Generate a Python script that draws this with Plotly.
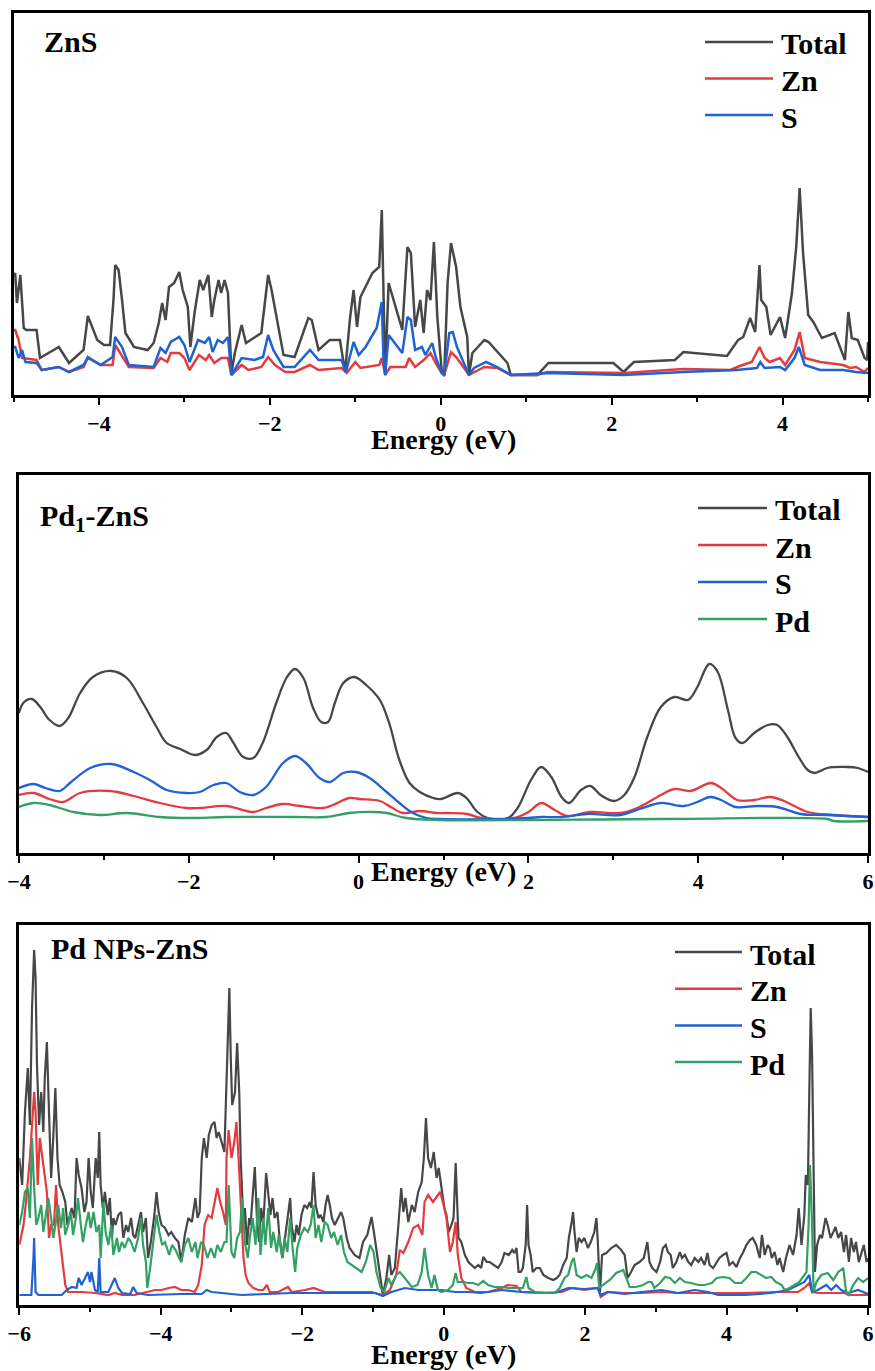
import plotly.graph_objects as go

W, H = 875, 1371

# ---------------- Data (Energy eV, DOS arb. units) ----------------
zns_total = [(-5.0, 10.0), (-4.98, 10.3), (-4.96, 7.3), (-4.92, 10.1), (-4.88, 4.8), (-4.85, 4.6), (-4.73, 4.6),
             (-4.69, 1.8), (-4.47, 2.9), (-4.35, 1.3), (-4.18, 2.6), (-4.13, 6.0), (-4.02, 3.6), (-3.94, 3.1),
             (-3.87, 3.1), (-3.83, 7.6), (-3.81, 11.1), (-3.77, 10.6), (-3.73, 7.6), (-3.69, 4.3), (-3.59, 2.9),
             (-3.43, 2.6), (-3.36, 3.3), (-3.30, 5.3), (-3.26, 7.3), (-3.22, 5.6), (-3.18, 8.9), (-3.12, 9.3),
             (-3.06, 10.4), (-3.02, 8.6), (-2.96, 6.9), (-2.93, 2.9), (-2.88, 6.4), (-2.82, 9.6), (-2.78, 8.6),
             (-2.72, 10.1), (-2.68, 5.9), (-2.65, 7.6), (-2.60, 9.6), (-2.57, 8.3), (-2.53, 9.6), (-2.49, 8.3),
             (-2.45, 0.3), (-2.41, 2.3), (-2.33, 5.1), (-2.28, 3.3), (-2.10, 4.3), (-2.02, 10.1), (-1.98, 8.6),
             (-1.84, 2.1), (-1.71, 1.9), (-1.55, 5.8), (-1.51, 5.6), (-1.43, 2.6), (-1.30, 3.6), (-1.18, 3.6),
             (-1.12, 0.4), (-1.06, 5.9), (-1.02, 8.6), (-0.98, 4.9), (-0.94, 7.9), (-0.90, 8.6), (-0.80, 10.3),
             (-0.72, 10.9), (-0.69, 16.6), (-0.67, 8.3), (-0.65, 0.1), (-0.61, 9.3), (-0.45, 4.6), (-0.39, 12.9),
             (-0.35, 12.3), (-0.30, 4.9), (-0.24, 7.6), (-0.20, 4.3), (-0.16, 8.6), (-0.12, 7.6), (-0.08, 13.4),
             (-0.04, 5.9), (0.01, 0.6), (0.04, 0.0), (0.08, 9.3), (0.12, 13.3), (0.18, 10.9), (0.23, 6.9),
             (0.31, 3.9), (0.33, 0.1), (0.37, 2.3), (0.51, 3.6), (0.56, 3.4), (0.78, 1.3), (0.82, 0.1),
             (1.13, 0.1), (1.26, 1.3), (2.02, 1.3), (2.14, 0.4), (2.26, 1.4), (2.74, 1.6), (2.84, 2.4),
             (3.35, 2.0), (3.48, 3.6), (3.54, 3.9), (3.62, 5.8), (3.68, 4.4), (3.73, 11.1), (3.75, 7.6),
             (3.81, 6.9), (3.86, 4.1), (3.97, 5.9), (4.03, 3.8), (4.11, 8.3), (4.16, 12.9), (4.20, 18.8),
             (4.24, 12.3), (4.30, 6.1), (4.36, 5.4), (4.46, 3.8), (4.61, 4.3), (4.73, 1.6), (4.77, 6.4),
             (4.81, 3.8), (4.88, 3.6), (4.96, 1.8), (4.99, 1.6), (5.0, 3.4)]
zns_zn = [(-5.0, 4.6), (-4.98, 4.6), (-4.94, 3.6), (-4.90, 1.8), (-4.73, 1.6), (-4.67, 0.6), (-4.47, 0.9),
          (-4.35, 0.4), (-4.18, 0.9), (-4.13, 1.8), (-3.98, 1.1), (-3.84, 1.1), (-3.81, 3.1), (-3.75, 2.3),
          (-3.65, 0.9), (-3.36, 0.8), (-3.28, 1.8), (-3.20, 1.4), (-3.16, 2.3), (-3.06, 2.3), (-3.00, 1.8),
          (-2.94, 0.6), (-2.83, 2.1), (-2.75, 1.6), (-2.71, 2.1), (-2.65, 1.3), (-2.57, 1.8), (-2.49, 1.8),
          (-2.45, 0.1), (-2.33, 1.1), (-2.25, 0.6), (-2.10, 0.9), (-2.02, 1.9), (-1.94, 1.1), (-1.82, 0.4),
          (-1.71, 0.4), (-1.53, 1.1), (-1.43, 0.6), (-1.16, 0.8), (-1.10, 0.3), (-1.00, 1.4), (-0.94, 0.8),
          (-0.72, 1.1), (-0.69, 1.8), (-0.65, 0.1), (-0.59, 0.9), (-0.41, 0.9), (-0.37, 1.8), (-0.30, 0.9),
          (-0.20, 1.6), (-0.12, 2.3), (-0.06, 1.3), (0.01, 0.3), (0.04, 0.1), (0.12, 2.4), (0.19, 1.8),
          (0.33, 0.1), (0.51, 0.9), (0.66, 0.8), (0.82, 0.1), (1.13, 0.1), (1.25, 0.4), (2.14, 0.3),
          (2.84, 0.7), (3.39, 0.6), (3.50, 1.0), (3.64, 1.4), (3.73, 2.9), (3.79, 1.8), (3.85, 1.4),
          (3.97, 1.8), (4.03, 1.1), (4.14, 2.6), (4.20, 4.4), (4.26, 1.8), (4.44, 1.4), (4.71, 1.1),
          (4.79, 0.8), (4.86, 0.9), (4.96, 0.4), (5.0, 0.8)]
zns_s = [(-5.0, 2.9), (-4.98, 2.9), (-4.94, 1.8), (-4.90, 2.6), (-4.86, 1.4), (-4.73, 1.3), (-4.67, 0.6),
         (-4.47, 0.9), (-4.35, 0.4), (-4.18, 1.1), (-4.13, 1.9), (-3.98, 1.1), (-3.84, 1.9), (-3.81, 3.9),
         (-3.73, 2.9), (-3.65, 1.1), (-3.36, 0.9), (-3.28, 2.8), (-3.22, 2.3), (-3.16, 3.4), (-3.06, 3.9),
         (-3.00, 3.1), (-2.94, 1.4), (-2.84, 3.6), (-2.76, 3.3), (-2.71, 3.9), (-2.67, 2.4), (-2.61, 3.6),
         (-2.55, 3.3), (-2.49, 3.9), (-2.45, 0.1), (-2.33, 1.8), (-2.18, 1.6), (-2.08, 1.9), (-2.02, 4.1),
         (-1.96, 2.6), (-1.84, 0.9), (-1.71, 0.9), (-1.53, 2.6), (-1.43, 1.6), (-1.16, 1.6), (-1.11, 0.4),
         (-1.02, 3.4), (-0.96, 2.1), (-0.88, 2.9), (-0.75, 4.8), (-0.69, 7.4), (-0.67, 1.6), (-0.65, 0.1),
         (-0.61, 4.1), (-0.45, 2.3), (-0.39, 5.9), (-0.35, 5.6), (-0.30, 2.6), (-0.22, 2.9), (-0.18, 2.1),
         (-0.10, 3.3), (-0.06, 1.9), (0.01, 0.3), (0.04, 0.1), (0.10, 4.3), (0.14, 4.4), (0.19, 2.9),
         (0.33, 0.1), (0.39, 0.8), (0.53, 1.4), (0.66, 0.9), (0.82, 0.1), (1.25, 0.3), (2.14, 0.1),
         (2.84, 0.4), (3.46, 0.6), (3.70, 0.8), (3.74, 1.4), (3.79, 0.8), (3.97, 0.9), (4.03, 0.6),
         (4.14, 1.8), (4.19, 2.9), (4.26, 1.1), (4.44, 0.6), (4.71, 0.6), (4.86, 0.4), (5.0, 0.3)]

pd1_total = [(-4.00, 10.6), (-3.95, 11.6), (-3.85, 12.0), (-3.75, 11.2), (-3.64, 9.9), (-3.52, 9.3),
             (-3.42, 10.1), (-3.28, 12.6), (-3.13, 14.2), (-2.91, 14.8), (-2.73, 14.1), (-2.54, 11.6),
             (-2.38, 9.2), (-2.26, 7.6), (-2.10, 7.0), (-1.93, 6.4), (-1.79, 6.9), (-1.67, 8.2), (-1.56, 8.6),
             (-1.48, 7.7), (-1.36, 6.2), (-1.24, 6.1), (-1.13, 7.6), (-0.97, 11.6), (-0.85, 14.1),
             (-0.75, 15.0), (-0.65, 14.1), (-0.54, 11.2), (-0.44, 9.7), (-0.36, 9.7), (-0.28, 11.6),
             (-0.18, 13.6), (-0.05, 14.2), (0.09, 13.4), (0.25, 11.9), (0.36, 9.6), (0.48, 5.9), (0.60, 3.6),
             (0.72, 2.7), (0.88, 2.1), (0.97, 2.0), (1.17, 2.6), (1.27, 2.1), (1.40, 0.7), (1.52, 0.1),
             (1.76, 0.1), (1.88, 1.2), (2.03, 3.9), (2.15, 5.2), (2.27, 4.2), (2.39, 2.2), (2.48, 1.6),
             (2.62, 2.9), (2.73, 3.3), (2.85, 2.4), (3.01, 1.8), (3.13, 2.4), (3.25, 4.2), (3.40, 8.2),
             (3.56, 11.2), (3.72, 12.2), (3.88, 11.9), (3.99, 13.2), (4.13, 15.5), (4.23, 14.7), (4.35, 10.9),
             (4.44, 8.1), (4.52, 7.6), (4.66, 8.6), (4.82, 9.4), (4.93, 9.4), (5.05, 8.2), (5.17, 6.4),
             (5.29, 4.9), (5.37, 4.6), (5.52, 5.1), (5.76, 5.2), (5.88, 5.1), (6.0, 4.7)]
pd1_zn = [(-4.00, 2.4), (-3.83, 2.6), (-3.64, 2.0), (-3.48, 1.7), (-3.28, 2.6), (-2.93, 2.8), (-2.65, 2.3),
          (-2.34, 1.6), (-2.03, 1.1), (-1.87, 1.1), (-1.56, 1.3), (-1.24, 0.7), (-1.09, 1.1), (-0.89, 1.5),
          (-0.69, 1.3), (-0.42, 1.1), (-0.30, 1.4), (-0.11, 2.1), (0.01, 2.0), (0.25, 1.8), (0.38, 1.2),
          (0.52, 0.6), (0.72, 0.8), (0.92, 0.6), (1.05, 0.6), (1.28, 0.5), (1.44, 0.1), (1.83, 0.1),
          (2.00, 0.7), (2.15, 1.6), (2.31, 0.9), (2.46, 0.3), (2.73, 0.7), (3.08, 0.6), (3.31, 1.2),
          (3.56, 2.4), (3.72, 3.0), (3.91, 2.8), (4.15, 3.6), (4.27, 3.1), (4.46, 1.9), (4.66, 1.9),
          (4.85, 2.2), (5.01, 1.8), (5.29, 0.7), (5.60, 0.4), (6.0, 0.2)]
pd1_s = [(-4.00, 3.1), (-3.83, 3.5), (-3.69, 3.1), (-3.52, 2.8), (-3.40, 3.6), (-3.16, 5.1), (-2.91, 5.5),
         (-2.65, 4.7), (-2.46, 3.9), (-2.26, 2.9), (-2.03, 2.6), (-1.87, 2.7), (-1.71, 3.4), (-1.56, 3.6),
         (-1.40, 2.7), (-1.24, 2.4), (-1.09, 3.2), (-0.89, 5.6), (-0.75, 6.3), (-0.62, 5.6), (-0.46, 4.1),
         (-0.34, 3.7), (-0.18, 4.6), (-0.03, 4.7), (0.13, 4.1), (0.33, 2.7), (0.48, 1.6), (0.64, 0.6),
         (0.80, 0.1), (0.95, 0.0), (1.68, 0.0), (2.00, 0.1), (2.15, 0.2), (2.39, 0.2), (2.69, 0.5),
         (3.08, 0.4), (3.31, 1.0), (3.56, 1.6), (3.83, 1.3), (3.99, 1.7), (4.14, 2.2), (4.27, 1.9),
         (4.44, 1.2), (4.69, 1.3), (4.93, 1.2), (5.21, 0.5), (5.52, 0.4), (6.0, 0.2)]
pd1_pd = [(-4.00, 1.2), (-3.83, 1.6), (-3.64, 1.4), (-3.36, 0.7), (-3.05, 0.4), (-2.73, 0.6), (-2.34, 0.2),
          (-1.99, 0.1), (-1.56, 0.2), (-0.77, 0.2), (-0.38, 0.2), (-0.11, 0.6), (0.17, 0.7), (0.33, 0.6),
          (0.56, 0.1), (0.95, -0.1), (3.56, 0.0), (5.52, 0.0), (5.60, -0.2), (6.0, -0.2)]

np_total = [(-6.0, 13.7), (-5.96, 11.0), (-5.92, 18.3), (-5.88, 22.7), (-5.85, 17.0), (-5.82, 28.7),
            (-5.79, 34.5), (-5.77, 31.7), (-5.75, 23.0), (-5.72, 17.0), (-5.69, 20.3), (-5.66, 16.3),
            (-5.64, 21.7), (-5.61, 25.3), (-5.58, 18.3), (-5.55, 11.7), (-5.52, 15.7), (-5.49, 20.7),
            (-5.46, 13.7), (-5.43, 11.0), (-5.39, 10.3), (-5.35, 9.3), (-5.32, 7.0), (-5.29, 8.0),
            (-5.26, 8.7), (-5.22, 7.7), (-5.19, 13.7), (-5.16, 12.0), (-5.12, 10.7), (-5.08, 8.3),
            (-5.05, 9.3), (-5.02, 13.7), (-4.99, 10.3), (-4.96, 8.7), (-4.92, 13.7), (-4.89, 11.7),
            (-4.87, 16.3), (-4.85, 11.0), (-4.82, 8.7), (-4.79, 10.3), (-4.75, 8.0), (-4.72, 9.7),
            (-4.69, 5.7), (-4.67, 7.7), (-4.64, 7.0), (-4.60, 8.0), (-4.56, 8.3), (-4.53, 5.7), (-4.49, 7.0),
            (-4.46, 6.3), (-4.42, 7.7), (-4.39, 6.0), (-4.36, 5.7), (-4.32, 7.0), (-4.28, 8.3), (-4.25, 6.3),
            (-4.21, 7.7), (-4.18, 3.7), (-4.14, 5.3), (-4.09, 8.0), (-4.06, 10.3), (-4.03, 8.3), (-3.99, 7.0),
            (-3.94, 6.7), (-3.89, 6.0), (-3.85, 6.3), (-3.80, 5.7), (-3.75, 5.3), (-3.71, 3.3), (-3.66, 6.0),
            (-3.61, 7.7), (-3.56, 7.3), (-3.51, 9.7), (-3.48, 7.7), (-3.45, 8.3), (-3.42, 13.7), (-3.39, 15.7),
            (-3.35, 13.7), (-3.32, 16.0), (-3.28, 17.0), (-3.24, 17.3), (-3.21, 15.7), (-3.18, 16.3),
            (-3.14, 15.3), (-3.10, 14.3), (-3.06, 23.7), (-3.03, 30.7), (-3.01, 23.7), (-2.99, 19.0),
            (-2.95, 20.3), (-2.92, 25.2), (-2.89, 20.3), (-2.87, 13.7), (-2.83, 7.0), (-2.81, 8.7),
            (-2.78, 5.0), (-2.75, 7.7), (-2.73, 7.0), (-2.69, 10.3), (-2.67, 12.8), (-2.64, 7.7),
            (-2.61, 5.3), (-2.58, 8.7), (-2.55, 7.0), (-2.51, 12.2), (-2.48, 10.3), (-2.45, 8.0),
            (-2.42, 9.7), (-2.39, 7.7), (-2.35, 8.3), (-2.32, 5.7), (-2.28, 3.7), (-2.25, 5.3), (-2.21, 7.7),
            (-2.17, 9.7), (-2.15, 7.0), (-2.11, 5.3), (-2.08, 7.0), (-2.05, 6.0), (-2.01, 8.0), (-1.97, 9.0),
            (-1.93, 8.7), (-1.89, 9.3), (-1.87, 8.7), (-1.84, 12.3), (-1.81, 9.0), (-1.77, 7.7), (-1.74, 8.0),
            (-1.70, 7.3), (-1.67, 9.0), (-1.64, 10.0), (-1.61, 9.0), (-1.58, 7.7), (-1.54, 7.0), (-1.49, 7.7),
            (-1.45, 8.3), (-1.42, 7.7), (-1.37, 5.7), (-1.33, 4.7), (-1.26, 4.0), (-1.19, 3.7), (-1.14, 5.3),
            (-1.08, 6.0), (-1.02, 7.8), (-0.98, 6.0), (-0.93, 3.3), (-0.86, 0.0), (-0.81, 1.7), (-0.77, 4.0),
            (-0.74, 2.0), (-0.69, 2.7), (-0.64, 7.0), (-0.60, 10.7), (-0.57, 8.3), (-0.54, 9.7), (-0.50, 7.3),
            (-0.45, 9.0), (-0.41, 8.3), (-0.36, 10.3), (-0.31, 11.3), (-0.28, 13.7), (-0.25, 17.7),
            (-0.22, 13.7), (-0.18, 12.7), (-0.14, 14.3), (-0.10, 11.7), (-0.07, 12.7), (-0.03, 10.7),
            (0.01, 8.7), (0.04, 8.0), (0.07, 6.3), (0.11, 7.0), (0.14, 7.7), (0.17, 13.2), (0.20, 7.7),
            (0.21, 5.7), (0.25, 5.3), (0.30, 4.0), (0.35, 3.3), (0.40, 3.0), (0.44, 2.7), (0.49, 3.0),
            (0.53, 2.7), (0.56, 3.8), (0.61, 3.3), (0.65, 3.3), (0.72, 3.0), (0.77, 2.7), (0.82, 3.3),
            (0.86, 4.2), (0.92, 4.0), (0.97, 4.5), (1.00, 4.2), (1.03, 4.7), (1.06, 2.3), (1.09, 2.3),
            (1.12, 2.7), (1.16, 5.0), (1.18, 9.0), (1.20, 5.0), (1.23, 4.0), (1.26, 2.3), (1.31, 2.7),
            (1.36, 2.7), (1.41, 2.0), (1.48, 1.7), (1.55, 1.5), (1.60, 1.7), (1.64, 2.0), (1.69, 3.0),
            (1.74, 3.7), (1.77, 5.7), (1.81, 7.3), (1.83, 8.3), (1.85, 6.3), (1.88, 4.3), (1.91, 5.7),
            (1.95, 5.3), (1.99, 5.7), (2.04, 4.7), (2.08, 5.3), (2.13, 6.3), (2.16, 7.7), (2.18, 5.3),
            (2.21, 0.3), (2.24, 4.0), (2.30, 4.2), (2.37, 4.7), (2.44, 5.0), (2.51, 4.5), (2.56, 4.0),
            (2.60, 1.7), (2.65, 2.3), (2.70, 3.0), (2.77, 3.3), (2.83, 3.7), (2.88, 5.3), (2.91, 3.3),
            (2.95, 2.7), (3.01, 2.3), (3.06, 3.3), (3.10, 4.7), (3.14, 5.0), (3.17, 4.3), (3.21, 4.0),
            (3.24, 2.7), (3.29, 3.3), (3.34, 4.3), (3.37, 3.7), (3.41, 4.0), (3.46, 3.3), (3.50, 3.0),
            (3.55, 3.7), (3.60, 3.3), (3.64, 3.7), (3.69, 3.0), (3.73, 4.2), (3.76, 3.0), (3.81, 2.7),
            (3.86, 3.3), (3.90, 3.7), (3.95, 4.0), (4.00, 4.2), (4.04, 3.0), (4.09, 3.3), (4.14, 2.8),
            (4.19, 3.7), (4.23, 4.2), (4.28, 5.0), (4.33, 5.5), (4.37, 5.7), (4.42, 5.0), (4.47, 3.7),
            (4.50, 6.0), (4.54, 4.0), (4.58, 5.0), (4.61, 4.7), (4.64, 3.7), (4.68, 4.3), (4.72, 3.0),
            (4.75, 3.7), (4.80, 2.3), (4.84, 3.7), (4.89, 5.0), (4.94, 4.0), (4.99, 6.0), (5.02, 8.7),
            (5.06, 5.0), (5.10, 8.0), (5.12, 12.0), (5.15, 11.0), (5.17, 20.3), (5.19, 28.7), (5.21, 23.7),
            (5.23, 10.3), (5.25, 2.3), (5.28, 5.0), (5.32, 6.0), (5.35, 5.7), (5.40, 7.7), (5.43, 7.0),
            (5.47, 5.7), (5.51, 6.3), (5.54, 6.8), (5.58, 5.7), (5.62, 6.3), (5.66, 4.3), (5.69, 6.0),
            (5.73, 3.3), (5.76, 5.7), (5.80, 4.3), (5.83, 5.3), (5.87, 3.3), (5.91, 4.3), (5.94, 5.0),
            (5.98, 3.3), (6.0, 3.7)]
np_zn = [(-6.0, 5.0), (-5.94, 7.0), (-5.90, 9.7), (-5.85, 13.7), (-5.82, 17.0), (-5.79, 20.3), (-5.77, 18.3),
         (-5.74, 11.0), (-5.71, 15.7), (-5.67, 13.7), (-5.64, 11.7), (-5.61, 10.3), (-5.58, 5.7), (-5.55, 7.0),
         (-5.51, 7.0), (-5.48, 11.0), (-5.45, 7.0), (-5.40, 3.7), (-5.35, 1.0), (-5.31, 0.3), (-5.12, 0.3),
         (-4.93, 0.2), (-4.74, 0.0), (-4.65, 0.2), (-4.55, 0.0), (-4.37, 0.0), (-4.18, 0.3), (-4.08, 0.5),
         (-3.99, 0.5), (-3.89, 0.7), (-3.80, 0.8), (-3.71, 0.5), (-3.61, 0.5), (-3.52, 0.3), (-3.47, 1.0),
         (-3.42, 3.0), (-3.38, 7.0), (-3.33, 8.0), (-3.28, 7.7), (-3.23, 9.7), (-3.20, 10.7), (-3.16, 9.3),
         (-3.12, 8.3), (-3.08, 7.0), (-3.07, 13.7), (-3.04, 16.5), (-3.00, 13.7), (-2.96, 15.3),
         (-2.93, 17.3), (-2.90, 13.7), (-2.87, 8.7), (-2.83, 3.7), (-2.80, 2.0), (-2.76, 1.2), (-2.69, 0.7),
         (-2.62, 0.5), (-2.55, 0.5), (-2.50, 1.0), (-2.46, 0.3), (-2.34, 0.3), (-2.20, 0.8), (-2.15, 0.3),
         (-1.96, 0.5), (-1.84, 0.7), (-1.68, 0.3), (-1.44, 0.3), (-1.21, 0.3), (-1.02, 0.3), (-0.86, 0.0),
         (-0.76, 0.5), (-0.67, 2.0), (-0.62, 4.5), (-0.57, 4.2), (-0.50, 5.3), (-0.43, 6.7), (-0.36, 7.0),
         (-0.30, 6.0), (-0.27, 9.3), (-0.22, 10.0), (-0.15, 9.3), (-0.08, 10.0), (-0.05, 10.3), (0.00, 9.0),
         (0.04, 7.7), (0.09, 4.3), (0.13, 5.3), (0.17, 7.3), (0.20, 4.0), (0.25, 1.7), (0.32, 0.7),
         (0.44, 0.3), (0.63, 0.3), (0.82, 0.7), (0.91, 1.0), (1.03, 0.9), (1.10, 0.3), (1.38, 0.2),
         (1.67, 0.3), (1.81, 0.7), (1.99, 0.5), (2.18, 0.7), (2.22, -0.2), (2.32, 0.3), (2.56, 0.2),
         (2.80, 0.2), (3.08, 0.3), (3.31, 0.2), (3.79, 0.2), (4.26, 0.2), (4.73, 0.3), (5.01, 0.3),
         (5.10, 0.7), (5.17, 1.2), (5.21, 0.3), (5.29, 0.2), (5.67, 0.2), (5.72, 0.0), (6.0, 0.0)]
np_s = [(-6.0, 0.0), (-5.83, 0.0), (-5.80, 3.7), (-5.79, 5.7), (-5.77, 0.3), (-5.73, 0.0), (-5.40, 0.0),
        (-5.33, 0.5), (-5.26, 0.8), (-5.19, 0.7), (-5.16, 1.7), (-5.12, 1.0), (-5.07, 1.7), (-5.03, 2.3),
        (-5.00, 1.3), (-4.98, 2.3), (-4.93, 0.5), (-4.89, 0.3), (-4.87, 3.7), (-4.85, 0.3), (-4.74, 0.3),
        (-4.69, 1.0), (-4.65, 1.7), (-4.60, 0.7), (-4.55, 0.2), (-4.43, 0.1), (-4.39, 0.8), (-4.34, 0.2),
        (-4.18, 0.0), (-3.71, 0.1), (-3.42, 0.1), (-3.35, 0.5), (-3.28, 0.3), (-3.14, 0.2), (-2.86, 0.0),
        (-2.15, 0.2), (-1.68, 0.2), (-1.21, 0.2), (-0.97, 0.2), (-0.86, -0.1), (-0.74, 0.3), (-0.55, 0.7),
        (-0.36, 0.5), (-0.17, 0.5), (-0.03, 0.5), (0.16, 0.3), (0.35, 0.3), (0.53, 0.2), (0.82, 0.5),
        (1.10, 0.3), (1.38, 0.2), (1.57, 0.2), (1.76, 0.7), (1.99, 0.6), (2.18, 0.7), (2.22, 0.0),
        (2.32, 0.3), (2.56, 0.1), (2.80, 0.3), (3.08, 0.5), (3.31, 0.2), (3.55, 0.5), (3.74, 0.3),
        (3.88, 0.0), (4.26, 0.0), (4.63, 0.2), (4.87, 0.5), (5.01, 1.0), (5.10, 1.3), (5.17, 2.0),
        (5.21, 0.3), (5.29, 0.5), (5.41, 1.0), (5.48, 0.5), (5.55, 1.0), (5.62, 0.5), (5.72, 0.2),
        (5.86, 0.5), (6.0, 0.1)]
np_pd = [(-6.0, 7.0), (-5.96, 8.3), (-5.92, 10.3), (-5.88, 10.7), (-5.85, 7.7), (-5.82, 15.7), (-5.79, 10.7),
         (-5.76, 7.0), (-5.73, 7.7), (-5.69, 9.0), (-5.66, 6.3), (-5.63, 7.7), (-5.59, 9.7), (-5.55, 7.7),
         (-5.52, 5.7), (-5.49, 7.0), (-5.45, 9.0), (-5.41, 6.7), (-5.38, 8.7), (-5.35, 6.0), (-5.31, 7.0),
         (-5.27, 8.3), (-5.24, 6.0), (-5.20, 7.7), (-5.17, 9.7), (-5.13, 7.0), (-5.10, 5.3), (-5.06, 7.0),
         (-5.02, 8.3), (-4.99, 6.7), (-4.95, 8.3), (-4.91, 6.3), (-4.87, 7.0), (-4.85, 3.7), (-4.81, 9.3),
         (-4.78, 6.3), (-4.74, 5.0), (-4.70, 7.0), (-4.67, 4.0), (-4.62, 5.7), (-4.59, 4.3), (-4.55, 5.3),
         (-4.51, 4.7), (-4.46, 5.7), (-4.42, 5.3), (-4.37, 4.3), (-4.32, 5.7), (-4.28, 7.7), (-4.25, 5.0),
         (-4.21, 3.3), (-4.19, 0.7), (-4.15, 2.7), (-4.11, 5.0), (-4.06, 8.0), (-4.02, 6.3), (-3.98, 5.0),
         (-3.94, 5.3), (-3.88, 4.0), (-3.84, 5.0), (-3.79, 4.5), (-3.74, 3.7), (-3.71, 3.3), (-3.66, 5.0),
         (-3.61, 5.7), (-3.56, 4.3), (-3.51, 5.3), (-3.48, 3.7), (-3.43, 5.3), (-3.39, 5.0), (-3.34, 3.7),
         (-3.29, 4.7), (-3.24, 3.7), (-3.20, 5.0), (-3.15, 4.3), (-3.10, 5.3), (-3.07, 5.3), (-3.04, 11.0),
         (-3.00, 4.3), (-2.96, 3.7), (-2.92, 5.7), (-2.88, 6.3), (-2.85, 9.7), (-2.81, 5.3), (-2.77, 3.7),
         (-2.74, 5.7), (-2.70, 7.7), (-2.66, 5.0), (-2.62, 9.7), (-2.59, 4.0), (-2.55, 7.7), (-2.52, 5.0),
         (-2.48, 8.7), (-2.44, 4.7), (-2.41, 6.3), (-2.36, 4.3), (-2.33, 6.0), (-2.28, 3.7), (-2.25, 5.7),
         (-2.21, 4.3), (-2.17, 7.7), (-2.14, 5.0), (-2.10, 2.3), (-2.07, 4.7), (-2.02, 6.0), (-1.97, 6.7),
         (-1.92, 6.3), (-1.88, 7.0), (-1.84, 9.0), (-1.81, 5.7), (-1.77, 7.0), (-1.73, 5.3), (-1.68, 7.3),
         (-1.64, 7.0), (-1.59, 5.7), (-1.55, 6.3), (-1.50, 5.0), (-1.45, 6.0), (-1.41, 4.3), (-1.36, 3.3),
         (-1.30, 3.0), (-1.23, 2.7), (-1.16, 2.3), (-1.10, 3.3), (-1.04, 5.0), (-0.99, 4.3), (-0.95, 2.3),
         (-0.89, 0.7), (-0.84, 0.3), (-0.78, 1.7), (-0.74, 1.0), (-0.67, 2.0), (-0.62, 2.3), (-0.55, 1.7),
         (-0.45, 0.8), (-0.37, 1.0), (-0.31, 2.3), (-0.27, 4.7), (-0.22, 2.0), (-0.17, 0.7), (-0.13, 2.0),
         (-0.08, 0.5), (-0.03, 0.3), (0.06, 0.5), (0.13, 1.0), (0.17, 2.2), (0.20, 1.3), (0.28, 1.3),
         (0.35, 1.2), (0.42, 1.2), (0.49, 1.0), (0.56, 1.4), (0.63, 1.0), (0.72, 0.8), (0.82, 0.8),
         (0.91, 0.7), (1.03, 0.7), (1.12, 0.7), (1.17, 1.8), (1.20, 0.7), (1.29, 0.3), (1.43, 0.2),
         (1.57, 0.2), (1.64, 0.7), (1.71, 1.7), (1.76, 2.0), (1.81, 3.3), (1.84, 3.7), (1.88, 2.0),
         (1.95, 1.7), (2.02, 2.0), (2.09, 1.7), (2.14, 2.5), (2.17, 3.2), (2.20, 0.7), (2.25, 1.0),
         (2.35, 1.5), (2.44, 2.2), (2.54, 2.5), (2.58, 1.7), (2.63, 0.8), (2.72, 0.8), (2.82, 1.0),
         (2.89, 1.3), (2.94, 1.3), (2.98, 0.7), (3.06, 1.2), (3.13, 1.8), (3.20, 1.7), (3.27, 1.2),
         (3.34, 1.7), (3.41, 1.3), (3.50, 1.2), (3.60, 1.0), (3.69, 1.0), (3.79, 1.2), (3.86, 1.7),
         (3.95, 1.8), (4.04, 1.7), (4.12, 1.2), (4.21, 1.2), (4.28, 1.7), (4.35, 2.3), (4.42, 2.3),
         (4.49, 2.0), (4.56, 1.7), (4.63, 1.8), (4.70, 1.3), (4.78, 1.0), (4.82, 0.5), (4.89, 0.7),
         (4.96, 1.0), (5.03, 1.3), (5.10, 2.0), (5.13, 2.3), (5.16, 7.0), (5.18, 13.0), (5.21, 7.0),
         (5.23, 0.3), (5.27, 1.3), (5.34, 2.0), (5.43, 2.2), (5.51, 1.5), (5.58, 2.3), (5.65, 2.7),
         (5.69, 0.3), (5.73, 0.0), (5.79, 1.0), (5.86, 1.7), (5.93, 1.3), (6.0, 1.7)]

series_names = ["Total", "Zn", "S", "Pd"]
panel_labels = ["ZnS", "Pd<sub>1</sub>-ZnS", "Pd NPs-ZnS"]
x_ranges = [(-5, 5), (-4, 6), (-6, 6)]
y_ranges = [(-1.9, 36.3), (-3.4, 34.4), (-1.0, 37.0)]

# ---------------- Styling ----------------
COLORS = {"Total": "#474747", "Zn": "#e33b3f", "S": "#1f63d2", "Pd": "#33a066"}
FONT = "Liberation Serif"

panels = [
    {"data": [("Total", zns_total), ("Zn", zns_zn), ("S", zns_s)],
     "xdom": (13.5, 868), "ydom": (13, 395), "shape": "linear", "lw": 2.5},
    {"data": [("Total", pd1_total), ("Zn", pd1_zn), ("S", pd1_s), ("Pd", pd1_pd)],
     "xdom": (19, 868), "ydom": (475, 853), "shape": "spline", "lw": 2.3},
    {"data": [("Total", np_total), ("Zn", np_zn), ("S", np_s), ("Pd", np_pd)],
     "xdom": (19.3, 868), "ydom": (925, 1305), "shape": "linear", "lw": 2.2},
]

legend_geo = [  # line x0, x1, text x, first y, spacing (pixels)
    (705, 773, 779, 42, 36.5),
    (698, 767, 773, 508, 37.0),
    (675, 742, 748, 952, 36.7),
]
label_pos = [(42, 42), (38, 518), (49, 949)]
title_y = [440, 871, 1354]

fig = go.Figure()
shapes, annotations = [], []

def px2x(p):
    return p / W

def py2y(p):
    return 1 - p / H

for i, pnl in enumerate(panels):
    n = "" if i == 0 else str(i + 1)
    xa, ya = "x" + n, "y" + n
    for name, pts in pnl["data"]:
        fig.add_trace(go.Scatter(
            x=[p[0] for p in pts], y=[p[1] for p in pts], mode="lines", name=name,
            line=dict(color=COLORS[name], width=pnl["lw"], shape=pnl["shape"]),
            xaxis=xa, yaxis=ya, showlegend=False, hoverinfo="skip"))
    x0, x1 = pnl["xdom"]
    ytop, ybot = pnl["ydom"]
    fig.layout["xaxis" + n] = dict(
        domain=[px2x(x0), px2x(x1)], anchor=ya, range=list(x_ranges[i]), dtick=2, tick0=0,
        automargin=False,
        ticks="outside", ticklen=7, tickwidth=2, tickcolor="black",
        minor=dict(dtick=1, tick0=0, ticks="outside", ticklen=4, tickwidth=2, tickcolor="black", showgrid=False),
        showline=True, linewidth=2.5, linecolor="black", mirror=True, showgrid=False, zeroline=False,
        tickfont=dict(family=FONT, size=22, color="black", weight="bold"), ticklabelstandoff=0)
    fig.layout["yaxis" + n] = dict(
        domain=[py2y(ybot), py2y(ytop)], anchor=xa, range=list(y_ranges[i]), automargin=False,
        showticklabels=False, ticks="", showline=True, linewidth=2.5, linecolor="black", mirror=True,
        showgrid=False, zeroline=False)

    # axis title
    annotations.append(dict(text="Energy (eV)", x=px2x(443), y=py2y(title_y[i]), xref="paper", yref="paper",
                            showarrow=False, xanchor="center", yanchor="middle",
                            font=dict(family=FONT, size=28, color="black", weight="bold")))
    # panel label
    lx, ly = label_pos[i]
    annotations.append(dict(text=panel_labels[i], x=px2x(lx), y=py2y(ly), xref="paper", yref="paper",
                            showarrow=False, xanchor="left", yanchor="middle",
                            font=dict(family=FONT, size=30, color="black", weight="bold")))
    # legend
    lx0, lx1, tx, ly0, dy = legend_geo[i]
    for k, (name, _) in enumerate(pnl["data"]):
        yy = ly0 + k * dy
        shapes.append(dict(type="line", xref="paper", yref="paper", x0=px2x(lx0), x1=px2x(lx1),
                           y0=py2y(yy), y1=py2y(yy), line=dict(color=COLORS[name], width=2.5)))
        annotations.append(dict(text=name, x=px2x(tx), y=py2y(yy + 2), xref="paper", yref="paper",
                                showarrow=False, xanchor="left", yanchor="middle",
                                font=dict(family=FONT, size=30, color="black", weight="bold")))

fig.update_layout(width=W, height=H, margin=dict(l=0, r=0, t=0, b=0, autoexpand=False),
                  paper_bgcolor="white", plot_bgcolor="white", shapes=shapes, annotations=annotations,
                  showlegend=False, font=dict(family=FONT))

fig.write_html("out.html")
